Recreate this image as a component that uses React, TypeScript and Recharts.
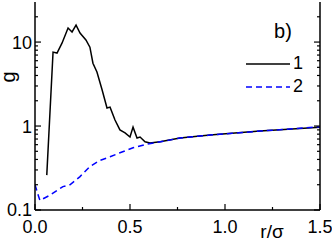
import React from "react";
import {
  LineChart,
  Line,
  XAxis,
  YAxis,
  Legend,
  Customized,
} from "recharts";

// curve 1 (solid black)
const r1 = [0.062, 0.095, 0.116, 0.142, 0.174, 0.195, 0.216, 0.237, 0.268, 0.289, 0.305, 0.326, 0.353, 0.379, 0.395, 0.421, 0.447, 0.474, 0.5, 0.516, 0.537, 0.553, 0.579, 0.605, 0.658, 0.763, 0.921, 1.184, 1.5];
const g1 = [0.26, 7.6, 7.4, 9.7, 14.7, 13.2, 15.9, 12.8, 10.6, 8.7, 5.6, 4.4, 2.7, 1.64, 1.68, 1.18, 0.9, 0.83, 0.74, 0.97, 0.72, 0.74, 0.65, 0.63, 0.65, 0.72, 0.78, 0.87, 0.97];

// curve 2 (dashed blue)
const r2 = [0, 0.017, 0.026, 0.053, 0.079, 0.147, 0.184, 0.237, 0.289, 0.342, 0.395, 0.447, 0.516, 0.589, 0.695, 0.763, 0.921, 1.184, 1.5];
const g2 = [0.2, 0.15, 0.13, 0.14, 0.15, 0.19, 0.2, 0.25, 0.33, 0.39, 0.43, 0.48, 0.55, 0.61, 0.67, 0.72, 0.78, 0.87, 0.98];

const xTicks = [0, 0.25, 0.5, 0.75, 1, 1.25, 1.5];
const xMajor = [0, 0.5, 1, 1.5];
const yMajor = [0.1, 1, 10];
const yTicks = [0.1, 0.2, 0.3, 0.4, 0.5, 0.6, 0.7, 0.8, 0.9, 1, 2, 3, 4, 5, 6, 7, 8, 9, 10, 20];

const font = "'Liberation Sans', Arial, sans-serif";
const FS = 18;

const s1 = r1.map((r, i) => ({ r, g: g1[i] }));
const s2 = r2.map((r, i) => ({ r, g: g2[i] }));

const LeftTick = (p: any) => {
  const v = p.payload.value;
  const major = yMajor.includes(v);
  return (
    <g>
      <line x1={p.x} x2={p.x + (major ? 6 : 3)} y1={p.y} y2={p.y} stroke="#000" strokeWidth={1.2} />
      {major && (
        <text x={p.x - 3} y={p.y} dy="0.36em" textAnchor="end" fontSize={FS} fontFamily={font} fill="#000">
          {v}
        </text>
      )}
    </g>
  );
};

const RightTick = (p: any) => {
  const major = yMajor.includes(p.payload.value);
  return <line x1={p.x} x2={p.x - (major ? 6 : 3)} y1={p.y} y2={p.y} stroke="#000" strokeWidth={1.2} />;
};

const BottomTick = (p: any) => {
  const v = p.payload.value;
  const major = xMajor.includes(v);
  return (
    <g>
      <line x1={p.x} x2={p.x} y1={p.y} y2={p.y - (major ? 6 : 3)} stroke="#000" strokeWidth={1.2} />
      {major && (
        <text x={p.x} y={p.y + 23} textAnchor="middle" fontSize={FS} fontFamily={font} fill="#000">
          {v.toFixed(1)}
        </text>
      )}
    </g>
  );
};

const TopTick = (p: any) => {
  const major = xMajor.includes(p.payload.value);
  return <line x1={p.x} x2={p.x} y1={p.y} y2={p.y + (major ? 6 : 3)} stroke="#000" strokeWidth={1.2} />;
};

const Labels = () => (
  <g fontFamily={font} fill="#000">
    <text x={0} y={0} fontSize={20} textAnchor="middle" transform="translate(15,77) rotate(-90)">
      g
    </text>
    <text x={272} y={238} fontSize={19} textAnchor="middle">
      r/σ
    </text>
    <text x={283} y={38} fontSize={20} textAnchor="middle">
      b)
    </text>
  </g>
);

const LegendBox = ({ payload }: any) => (
  <div style={{ fontFamily: font, fontSize: FS, lineHeight: "23px" }}>
    {(payload || []).map((e: any) => (
      <div key={e.value} style={{ display: "flex", alignItems: "center", height: 23 }}>
        <svg width={44} height={4}>
          <line
            x1={0}
            x2={44}
            y1={2}
            y2={2}
            stroke={e.color}
            strokeWidth={1.5}
            strokeDasharray={e.payload?.strokeDasharray}
          />
        </svg>
        <span style={{ marginLeft: 3 }}>{e.value}</span>
      </div>
    ))}
  </div>
);

export default function App() {
  return (
    <div style={{ position: "absolute", left: 0, top: 0, background: "#fff" }}>
      <LineChart width={332} height={241} margin={{ top: 2, right: 0, bottom: 0, left: 0 }}>
        <XAxis
          dataKey="r"
          type="number"
          domain={[0, 1.5]}
          ticks={xTicks}
          interval={0}
          allowDataOverflow
          height={31}
          tickSize={0}
          tickMargin={0}
          tickLine={false}
          tick={<BottomTick />}
          axisLine={{ stroke: "#000", strokeWidth: 1.5 }}
        />
        <XAxis
          xAxisId="top"
          orientation="top"
          type="number"
          domain={[0, 1.5]}
          ticks={xTicks}
          interval={0}
          height={0}
          tickSize={0}
          tickMargin={0}
          tickLine={false}
          tick={<TopTick />}
          axisLine={{ stroke: "#000", strokeWidth: 1.5 }}
        />
        <YAxis
          scale="log"
          type="number"
          domain={[0.1, 30]}
          allowDataOverflow
          ticks={yTicks}
          interval={0}
          width={35}
          tickSize={0}
          tickMargin={0}
          tickLine={false}
          tick={<LeftTick />}
          axisLine={{ stroke: "#000", strokeWidth: 1.5 }}
        />
        <YAxis
          yAxisId="right"
          orientation="right"
          scale="log"
          type="number"
          domain={[0.1, 30]}
          allowDataOverflow
          ticks={yTicks}
          interval={0}
          width={12}
          tickSize={0}
          tickMargin={0}
          tickLine={false}
          tick={<RightTick />}
          axisLine={{ stroke: "#000", strokeWidth: 1.5 }}
        />
        <Line
          data={s1}
          dataKey="g"
          name="1"
          stroke="#000"
          strokeWidth={1.5}
          dot={false}
          isAnimationActive={false}
        />
        <Line
          data={s2}
          dataKey="g"
          name="2"
          stroke="#0000ff"
          strokeWidth={1.5}
          strokeDasharray="6 4"
          dot={false}
          isAnimationActive={false}
        />
        <Legend
          layout="vertical"
          align="center"
          verticalAlign="middle"
          content={<LegendBox />}
          wrapperStyle={{ left: 246, top: 52, width: 70 }}
        />
        <Customized component={Labels} />
      </LineChart>
    </div>
  );
}
